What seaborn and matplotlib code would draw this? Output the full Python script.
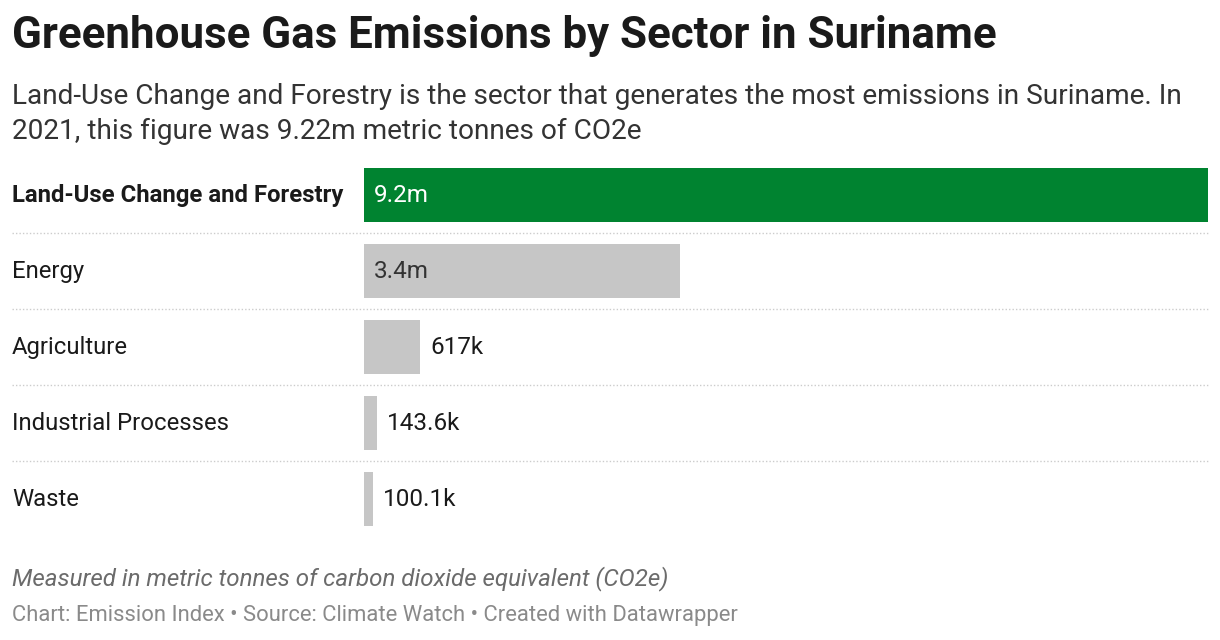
import matplotlib.pyplot as plt
import matplotlib.transforms as mtransforms
import seaborn as sns
import pandas as pd

sectors = ["Land-Use Change and Forestry", "Energy", "Agriculture",
           "Industrial Processes", "Waste"]
emissions = [9.22e6, 3.45e6, 617e3, 143.6e3, 100.1e3]
value_labels = ["9.2m", "3.4m", "617k", "143.6k", "100.1k"]

df = pd.DataFrame({"Sector": sectors, "Emissions": emissions})

sns.set_theme(style="white")
plt.rcParams["font.family"] = ["Roboto", "DejaVu Sans"]

fig = plt.figure(figsize=(12.2, 6.4), dpi=100)
ax = fig.add_axes([364 / 1220, 1 - 537 / 640, (1208 - 364) / 1220, 380 / 640])

colors = ["#008330"] + ["#c6c6c6"] * 4
sns.barplot(data=df, x="Emissions", y="Sector", hue="Sector", palette=colors,
            legend=False, width=0.70, ax=ax, saturation=1, linewidth=0)

ax.set_xlim(0, emissions[0])
ax.set_ylim(4.5, -0.5)
ax.axis("off")

# value labels: inside the long bars, after the end of short ones
for i, (v, lab) in enumerate(zip(emissions, value_labels)):
    tr = mtransforms.offset_copy(ax.transData, fig=fig, x=10, y=0, units="dots")
    if v > emissions[0] * 0.3:
        ax.text(0, i, lab, transform=tr, va="center", ha="left", fontsize=17.5,
                color="white" if i == 0 else "#333333")
    else:
        ax.text(v, i, lab, transform=tr, va="center", ha="left", fontsize=17.5,
                color="#1a1a1a")

# category labels and dotted separators
for i, s in enumerate(sectors):
    y = 1 - (195.5 + 76 * i) / 640
    fig.text(12 / 1220, y, s, ha="left", va="center", fontsize=17.2,
             fontweight="bold" if i == 0 else "normal", color="#1a1a1a")
    if i < len(sectors) - 1:
        ys = 1 - (233 + 76 * i) / 640
        fig.add_artist(plt.Line2D([12 / 1220, 1208 / 1220], [ys, ys],
                                  color="#cccccc", lw=1, ls=(0, (1, 1.5))))

fig.text(12 / 1220, 1 - 36 / 640, "Greenhouse Gas Emissions by Sector in Suriname",
         fontsize=31.6, fontweight="bold", color="#1a1a1a", va="center")
fig.text(12 / 1220, 1 - 97 / 640,
         "Land-Use Change and Forestry is the sector that generates the most emissions in Suriname. In",
         fontsize=20.2, color="#333333", va="center")
fig.text(12 / 1220, 1 - 131 / 640,
         "2021, this figure was 9.22m metric tonnes of CO2e",
         fontsize=20.2, color="#333333", va="center")
fig.text(12 / 1220, 1 - 579 / 640,
         "Measured in metric tonnes of carbon dioxide equivalent (CO2e)",
         fontsize=17.4, style="italic", color="#6b6b6b", va="center")
fig.text(12 / 1220, 1 - 616 / 640,
         "Chart: Emission Index \u2022 Source: Climate Watch \u2022 Created with Datawrapper",
         fontsize=15.8, color="#8a8a8a", va="center")

fig.savefig("out.png", dpi=100)
